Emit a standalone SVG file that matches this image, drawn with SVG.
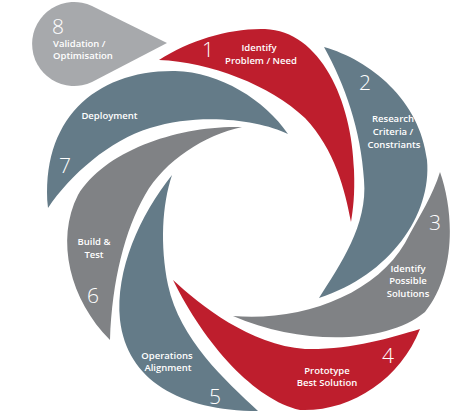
<svg xmlns="http://www.w3.org/2000/svg" width="453" height="414" viewBox="0 0 453 414">
<style>
.red{fill:#be1e2d}
.slate{fill:#647b88}
.gray{fill:#808285}
.lgray{fill:#a7a9ac}
.num{font-family:"Open Sans","Liberation Sans",sans-serif;font-weight:300;font-size:21px;fill:#fff}
.lbl{font-family:"Open Sans","Liberation Sans",sans-serif;font-weight:600;font-size:9.5px;fill:#fff;text-anchor:middle}
.lft{text-anchor:start}
</style>
<rect width="453" height="414" fill="#fff"/>
<g id="step8">
<path class="lgray" d="M167,43 L92,6 A42,42 0 1 0 92,82 Z"/>
<text class="num" x="52" y="34">8</text>
<text class="lbl lft" x="53" y="47">Validation /</text>
<text class="lbl lft" x="53" y="59">Optimisation</text>
</g>
<g id="step1">
<path class="red" d="M159,60 C190,40 230,28 265,29 C320,31 352,100 354,170 C355,195 353,210 351,222 C345,190 335,150 305,118 C270,85 210,62 159,60 Z"/>
<text class="num" x="208" y="57" text-anchor="middle">1</text>
<text class="lbl" x="259" y="51">Identify</text>
<text class="lbl" x="261" y="63.5">Problem / Need</text>
</g>
<g id="step2">
<path class="slate" d="M324,47 C370,60 420,100 427,160 C432,215 390,275 319,298 C340,265 368,225 364,180 C361,130 345,85 324,47 Z"/>
<text class="num" x="365" y="90" text-anchor="middle">2</text>
<text class="lbl" x="393" y="122">Research</text>
<text class="lbl" x="393" y="135">Criteria /</text>
<text class="lbl" x="394" y="148">Constriants</text>
</g>
<g id="step3">
<path class="gray" d="M440,172 C455,215 455,275 425,312 C385,345 300,345 233,316 C300,322 375,295 405,243 C420,215 433,195 440,172 Z"/>
<text class="num" x="435" y="230" text-anchor="middle">3</text>
<text class="lbl" x="408" y="271.5">Identify</text>
<text class="lbl" x="408" y="284">Possible</text>
<text class="lbl" x="408" y="296.5">Solutions</text>
</g>
<g id="step4">
<path class="red" d="M420,329 C400,380 350,412 300,410 C255,400 205,345 173,280 C200,305 250,345 305,349 C350,350 390,338 420,329 Z"/>
<text class="num" x="388" y="363" text-anchor="middle">4</text>
<text class="lbl" x="327" y="373.5">Prototype</text>
<text class="lbl" x="327" y="385.5">Best Solution</text>
</g>
<g id="step5">
<path class="slate" d="M172,175 C140,215 115,270 120,320 C127,380 180,411 258,411 C225,380 180,340 168,285 C160,245 162,205 172,175 Z"/>
<text class="num" x="215" y="404" text-anchor="middle">5</text>
<text class="lbl" x="167" y="358.5">Operations</text>
<text class="lbl" x="168" y="371">Alignment</text>
</g>
<g id="step6">
<path class="gray" d="M110,340 C70,300 55,240 78,195 C105,150 180,125 242,127 C205,135 165,160 145,195 C125,230 112,280 110,340 Z"/>
<text class="num" x="93" y="303" text-anchor="middle">6</text>
<text class="lbl" x="94" y="245">Build &amp;</text>
<text class="lbl" x="94" y="258">Test</text>
</g>
<g id="step7">
<path class="slate" d="M48,208 C40,120 95,70 175,71 C220,72 265,100 288,134 C260,120 200,112 150,128 C110,140 70,175 48,208 Z"/>
<text class="num" x="65" y="173" text-anchor="middle">7</text>
<text class="lbl" x="109.5" y="118.5">Deployment</text>
</g>
<g id="connectors"/>
</svg>
